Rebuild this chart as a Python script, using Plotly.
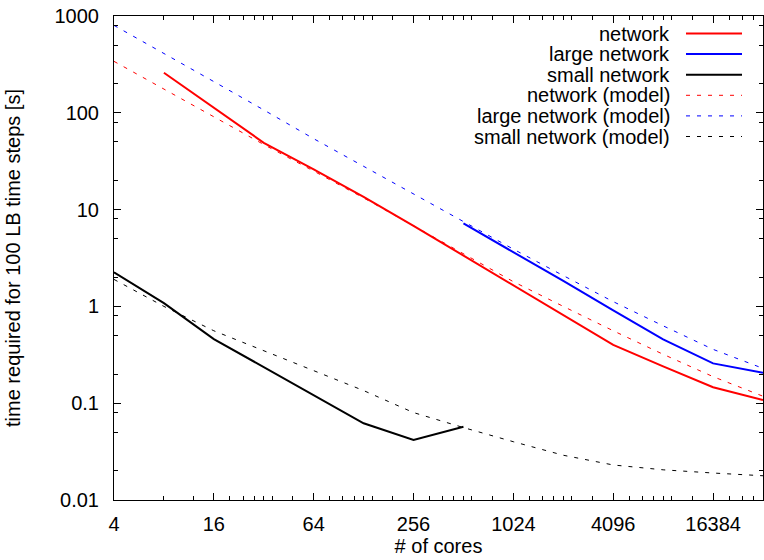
import plotly.graph_objects as go

# ---------------- data ----------------
cores = [4, 8, 16, 32, 64, 128, 256, 512, 1024, 2048, 4096, 8192, 16384, 32768]

net_cores = [8, 16, 32, 64, 128, 256, 512, 1024, 2048, 4096, 8192, 16384, 32768]
net_time = [259, 113, 49, 26, 13.5, 6.8, 3.35, 1.66, 0.82, 0.40, 0.24, 0.146, 0.108]

large_cores = [512, 1024, 2048, 4096, 8192, 16384, 32768]
large_time = [7.2, 3.65, 1.83, 0.91, 0.457, 0.258, 0.206]

small_cores = [4, 8, 16, 32, 64, 128, 256, 512]
small_time = [2.25, 1.08, 0.46, 0.236, 0.121, 0.062, 0.0417, 0.057]

net_model = [340, 176, 91, 47, 25, 13.2, 6.8, 3.5, 1.8, 1.0, 0.56, 0.32, 0.188, 0.118]
large_model = [800, 412, 210, 107, 54, 28, 14.5, 7.6, 3.9, 2.08, 1.12, 0.63, 0.36, 0.229]
small_model = [1.9, 1.0, 0.56, 0.35, 0.22, 0.135, 0.08, 0.056, 0.040, 0.029, 0.023, 0.0205, 0.019, 0.0178]

series_names = ["network", "large network", "small network",
                "network (model)", "large network (model)", "small network (model)"]

x_tick_vals = [4, 16, 64, 256, 1024, 4096, 16384]
x_tick_text = ["4", "16", "64", "256", "1024", "4096", "16384"]
y_tick_vals = [0.01, 0.1, 1, 10, 100, 1000]
y_tick_text = ["0.01", "0.1", "1", "10", "100", "1000"]

# ---------------- figure ----------------
FONT = "Liberation Sans, Arial, Helvetica, sans-serif"
FS = 20
RED, BLUE, BLACK = "#ff0000", "#0000ff", "#000000"
DASH = "4px,7px"

fig = go.Figure()
styles = [
    (net_cores, net_time, RED, 2, "solid"),
    (large_cores, large_time, BLUE, 2, "solid"),
    (small_cores, small_time, BLACK, 2, "solid"),
    (cores, net_model, RED, 1, DASH),
    (cores, large_model, BLUE, 1, DASH),
    (cores, small_model, BLACK, 1, DASH),
]
order = [3, 4, 5, 0, 1, 2]
for i in order:
    xs, ys, col, w, d = styles[i]
    fig.add_trace(go.Scatter(x=xs, y=ys, mode="lines", name=series_names[i],
                             line=dict(color=col, width=w, dash=d),
                             showlegend=False, hoverinfo="skip"))

# minor ticks
x_minor = []
for b in [4, 16, 64, 256, 1024, 4096, 16384]:
    mult = [2, 3] if b == 4 else [1.25, 1.5, 1.75, 2, 2.25, 3]
    x_minor += [b * m for m in mult if b * m < 32768]
y_minor = []
for dec in [0.01, 0.1, 1, 10, 100]:
    y_minor += [dec * m for m in (2, 5, 8)]

L, R, T, B = 114, 1, 16, 60
W, H = 764, 560

fig.update_layout(
    width=W, height=H,
    margin=dict(l=L, r=R, t=T, b=B, pad=0),
    paper_bgcolor="white", plot_bgcolor="white",
    font=dict(family=FONT, size=FS, color="black"),
    showlegend=False,
)
fig.update_xaxes(
    type="log", range=[0.60206, 4.51545],
    tickvals=x_tick_vals, ticktext=x_tick_text,
    showgrid=False, zeroline=False,
    showline=True, linecolor="black", linewidth=1, mirror="allticks",
    ticks="inside", ticklen=7, tickcolor="black", tickwidth=1,
    ticklabelstandoff=6,
    minor=dict(tickvals=x_minor, ticks="inside", ticklen=4, tickcolor="black", showgrid=False),
    title=dict(text="# of cores", standoff=4, font=dict(size=FS)),
)
fig.update_yaxes(
    type="log", range=[-2, 3],
    tickvals=y_tick_vals, ticktext=y_tick_text,
    showgrid=False, zeroline=False,
    showline=True, linecolor="black", linewidth=1, mirror="allticks",
    ticks="inside", ticklen=7, tickcolor="black", tickwidth=1,
    ticklabelstandoff=10,
    minor=dict(tickvals=y_minor, ticks="inside", ticklen=4, tickcolor="black", showgrid=False),
    title=dict(text="time required for 100 LB time steps [s]", standoff=28, font=dict(size=FS)),
)

# gnuplot-style legend: right-aligned label, sample line to its right
plot_w = W - L - R
plot_h = H - T - B
text_right = (672 - L) / plot_w
line_x0 = (686 - L) / plot_w
line_x1 = (742 - L) / plot_w
row0 = 33.5
row_step = 20.6
for k, name in enumerate(series_names):
    _, _, col, w, d = styles[k]
    yp = 1 - (row0 + k * row_step - T) / plot_h
    fig.add_annotation(x=text_right, y=yp, xref="paper", yref="paper",
                       text=name, showarrow=False, xanchor="right", yanchor="middle",
                       font=dict(family=FONT, size=FS, color="black"))
    fig.add_shape(type="line", xref="paper", yref="paper",
                  x0=line_x0, x1=line_x1, y0=yp, y1=yp,
                  line=dict(color=col, width=w, dash=d))

fig.write_html("out.html", config={"displayModeBar": False},
               post_script="document.body.style.margin='0';")
